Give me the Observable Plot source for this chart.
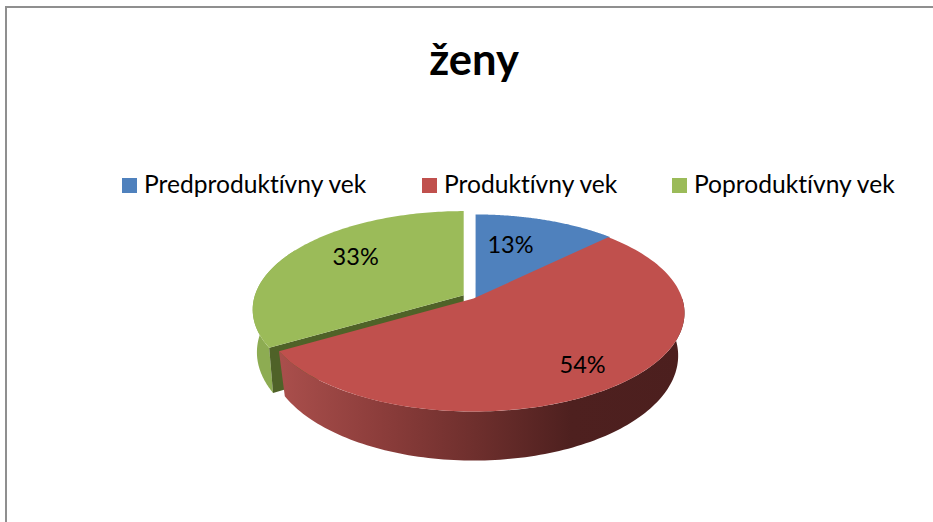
<!DOCTYPE html>
<html>
<head>
<meta charset="utf-8">
<script src="https://cdn.jsdelivr.net/npm/d3@7"></script>
<script src="https://cdn.jsdelivr.net/npm/@observablehq/plot@0.6"></script>
<style>
  html, body { margin: 0; padding: 0; background: #fff; }
  #chart { position: relative; width: 933px; height: 522px; overflow: hidden; font-family: Lato, sans-serif; color: #000; font-variant-ligatures: none; }
  #frame { position: absolute; left: 5px; top: 6px; right: -4px; bottom: -4px; border-left: 2px solid #8f8f8f; border-top: 2px solid #8f8f8f; }
  #title { position: absolute; left: 0; width: 948px; top: 28px; text-align: center; font-size: 43.5px; font-weight: 700; line-height: 60px; }
  .item { position: absolute; top: 169px; font-size: 24.6px; line-height: 30px; white-space: nowrap; }
  .swatch { position: absolute; top: 9px; left: -22px; width: 15px; height: 15px; }
  #plot { position: absolute; left: 0; top: 205px; }
  #plot svg { display: block; }
  #plot text { font-variant-ligatures: none; }
</style>
</head>
<body>
<div id="chart">
  <div id="frame"></div>
  <div id="title">ženy</div>
  <div id="plot"></div>
</div>
<script>
const titleText = "ženy";
const categories = ["Predproduktívny vek", "Produktívny vek", "Poproduktívny vek"];
const shares = [12.6, 53.9, 33.4];
const topColors = ["#4f81bd", "#c0504d", "#9bbb59"];
const legendLefts = [144, 444, 694];
const explodeX = [0.01, 0, -0.047];
const explodeY = [0, 0, 0.035];
const labelAlong = [0.37, 0.503, 0.56];
const labelRadius = [0.63, 0.79, 0.688];
const lowerScales = [0.97, 0.97, 0.98];

const perspective = 0.147, unitX = 208.7, unitY = 96.4;
const apexX = 473, apexY = 298, svgTop = 205, svgHeight = 317;
const lowerScaleY = 1.065, lowerDrop = 41.7 / unitY;
const toRad = Math.PI / 180;

const rim = (deg, r = 1) => {
  const X = r * Math.sin(deg * toRad), Y = r * Math.cos(deg * toRad), d = 1 + perspective * Y;
  return [X / d, Y / d];
};
const lower = i => ([x, y]) => [x * lowerScales[i], y * lowerScaleY - lowerDrop];
const arc = (a, b) => d3.range(0, 1.0001, 1 / 120).map(t => rim(a + (b - a) * t));
const shift = (pts, i) => pts.map(([x, y]) => [x + explodeX[i], y + explodeY[i]]);
const toRows = pts => pts.map(([x, y]) => ({x, y}));

const total = d3.sum(shares);
const ends = d3.cumsum(shares).map(v => v / total * 360);
const starts = ends.map((e, i) => e - shares[i] / total * 360);

const topFace = i => toRows(shift([[0, 0], ...arc(starts[i], ends[i])], i));
const outerSide = (i, a, b) => {
  const edge = arc(a, b);
  return toRows(shift([...edge, ...edge.slice().reverse().map(lower(i))], i));
};
const cutFace = i => {
  const end = rim(starts[i]);
  return toRows(shift([[0, 0], end, lower(i)(end), lower(i)([0, 0])], i));
};

const labels = categories.map((c, i) => {
  const [x, y] = rim(starts[i] + (ends[i] - starts[i]) * labelAlong[i], labelRadius[i]);
  return {x: x + explodeX[i], y: y + explodeY[i], text: d3.format(".0f")(shares[i]) + "%"};
});

const defs = () => {
  const d = d3.create("svg:defs");
  const g = d.append("linearGradient").attr("id", "redSide");
  [[0, "#aa4f4c"], [0.25, "#8c3d3b"], [0.5, "#6c2e2c"], [0.72, "#4e201f"], [1, "#4c1f1e"]]
    .forEach(([o, c]) => g.append("stop").attr("offset", o).attr("stop-color", c));
  return d.node();
};
const poly = (rows, fill) => Plot.line(rows, {x: "x", y: "y", fill, stroke: "none", curve: "linear"});

const chart = Plot.plot({
  width: 933, height: svgHeight, margin: 0,
  x: {axis: null, domain: [-apexX / unitX, (933 - apexX) / unitX], range: [0, 933]},
  y: {axis: null, domain: [(apexY - svgTop) / unitY, (apexY - svgTop - svgHeight) / unitY], range: [0, svgHeight]},
  marks: [
    defs,
    poly(outerSide(2, starts[2], 300), "#8dac52"),
    poly(cutFace(2), "#4f6228"),
    poly(topFace(2), topColors[2]),
    poly(topFace(0), topColors[0]),
    poly(outerSide(1, 90, ends[1]), "url(#redSide)"),
    poly(topFace(1), topColors[1]),
    Plot.text(labels, {x: "x", y: "y", text: "text", fontSize: 23.5, fontFamily: "Lato, sans-serif", fill: "#000"})
  ]
});
document.getElementById("plot").append(chart);

const host = document.getElementById("chart");
document.getElementById("title").textContent = titleText;
categories.forEach((c, i) => {
  const item = document.createElement("div");
  item.className = "item";
  item.style.left = legendLefts[i] + "px";
  item.textContent = c;
  const sw = document.createElement("span");
  sw.className = "swatch";
  sw.style.background = topColors[i];
  item.append(sw);
  host.append(item);
});
</script>
</body>
</html>
